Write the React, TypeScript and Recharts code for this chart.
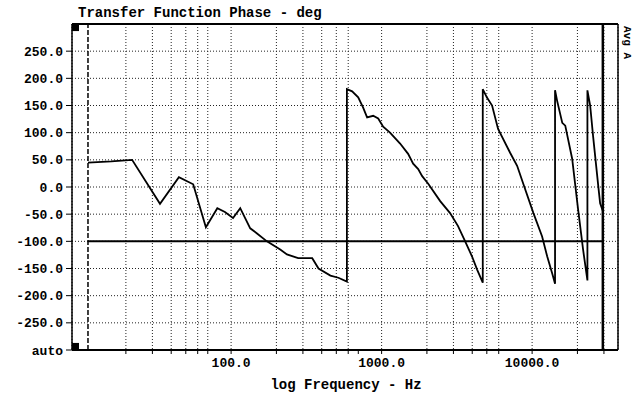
import { LineChart, Line, XAxis, YAxis, CartesianGrid, ReferenceLine, ReferenceArea } from "recharts";

// frequency (Hz) and phase (deg); repeated freq = phase wrap
const freqs = [
  11.2, 16, 22, 33.7, 45, 56, 68, 81, 91, 103, 115, 134, 148, 173, 212, 235, 279, 346, 381, 457, 516, 588,
  588, 637, 699, 754, 801, 879, 949, 1024, 1137, 1327, 1500, 1620, 1750, 1860, 2040, 2450, 2850, 3220, 3590, 3990, 4310, 4700,
  4700, 5000, 5420, 5940, 7140, 7950, 8710, 10200, 11650, 12600, 13600, 14200,
  14200, 14650, 15860, 16600, 18450, 20200, 21800, 23300,
  23300, 24300, 25400, 27500, 28300, 29500,
];
const phases = [
  45, 47, 50, -31, 18, 5, -74, -39, -46, -57, -39, -76, -85, -100, -115, -124, -131, -131, -150, -163, -167, -174,
  180, 176, 165, 146, 128, 131, 126, 111, 100, 80, 61, 43, 33, 20, 6, -26, -48, -72, -100, -128, -152, -176,
  180, 165, 150, 107, 63, 39, 7, -48, -91, -128, -159, -178,
  178, 159, 118, 113, 52, -41, -115, -172,
  178, 150, 94, 2, -30, -44,
];

const xTicks = [
  20, 30, 40, 50, 60, 70, 80, 90, 100,
  200, 300, 400, 500, 600, 700, 800, 900, 1000,
  2000, 3000, 4000, 5000, 6000, 7000, 8000, 9000, 10000,
  20000, 30000,
];
const decadeLabels = [100, 1000, 10000];
const yTicks = [-300, -250, -200, -150, -100, -50, 0, 50, 100, 150, 200, 250];

const cursorLeft = 11.2;
const cursorRight = 29500;
const refLevel = -100;

const data = freqs.map((f, i) => ({ f, phase: phases[i] }));

const font = "'Liberation Mono', 'DejaVu Sans Mono', monospace";

export default function App() {
  return (
    <div style={{ position: "absolute", left: 0, top: 0, width: 633, height: 394, background: "#fff" }}>
      <LineChart width={633} height={394} data={data} margin={{ top: 24, right: 15, bottom: 0, left: 0 }}>
        <CartesianGrid stroke="#222" strokeDasharray="1 2" />
        <XAxis
          dataKey="f"
          type="number"
          scale="log"
          domain={[8.77, 37200]}
          ticks={xTicks}
          allowDataOverflow
          height={44}
          tickSize={4}
          tickMargin={4}
          stroke="#000"
          axisLine={{ stroke: "#000", strokeWidth: 2 }}
          tickFormatter={(v: number) => (decadeLabels.includes(v) ? v.toFixed(1) : "")}
          tick={{ fill: "#000", fontFamily: font, fontWeight: "bold", fontSize: 13 }}
        />
        <YAxis
          type="number"
          domain={[-300, 300]}
          ticks={yTicks}
          width={72}
          tickSize={6}
          tickMargin={3}
          stroke="#000"
          axisLine={{ stroke: "#000", strokeWidth: 1.5 }}
          tickFormatter={(v: number) => (v === -300 ? "auto" : v.toFixed(1))}
          tick={{ fill: "#000", fontFamily: font, fontWeight: "bold", fontSize: 13 }}
        />
        <ReferenceLine y={300} stroke="#000" strokeWidth={2} />
        <ReferenceLine x={37200} stroke="#000" strokeWidth={1.5} />
        <ReferenceLine x={cursorLeft} stroke="#000" strokeWidth={1.5} strokeDasharray="5 2" />
        <ReferenceLine x={cursorRight} stroke="#000" strokeWidth={2.5} />
        <ReferenceLine
          segment={[
            { x: cursorLeft, y: refLevel },
            { x: cursorRight, y: refLevel },
          ]}
          stroke="#000"
          strokeWidth={2}
        />
        <ReferenceArea x1={8.77} x2={9.76} y1={287} y2={300} fill="#000" fillOpacity={1} stroke="none" />
        <ReferenceArea x1={8.77} x2={9.76} y1={-300} y2={-287} fill="#000" fillOpacity={1} stroke="none" />
        <Line
          type="linear"
          dataKey="phase"
          stroke="#000"
          strokeWidth={1.8}
          dot={false}
          isAnimationActive={false}
        />
      </LineChart>
      <svg width={633} height={394} style={{ position: "absolute", left: 0, top: 0, pointerEvents: "none" }}>
        <text x={78} y={17} fontFamily={font} fontWeight="bold" fontSize={14} fill="#000">
          Transfer Function Phase - deg
        </text>
        <text x={346} y={389} textAnchor="middle" fontFamily={font} fontWeight="bold" fontSize={14} fill="#000">
          log Frequency - Hz
        </text>
        <text
          x={624}
          y={26}
          transform="rotate(90 624 26)"
          fontFamily={font}
          fontWeight="bold"
          fontSize={11}
          fill="#000"
        >
          Avg A
        </text>
      </svg>
    </div>
  );
}
